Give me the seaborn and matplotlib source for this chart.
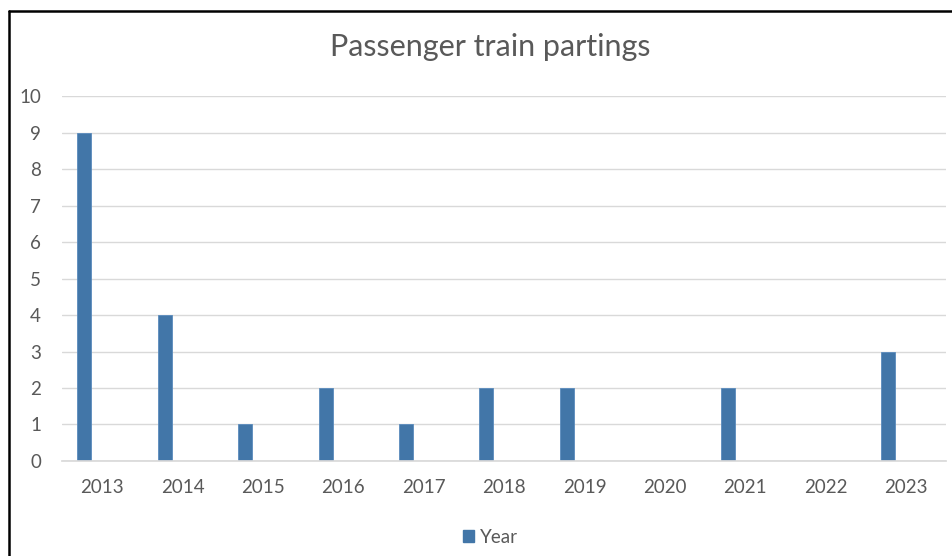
import matplotlib
matplotlib.use("Agg")
import matplotlib.pyplot as plt
import seaborn as sns
import pandas as pd
from matplotlib.lines import Line2D
from matplotlib.patches import Patch

years = ["2013", "2014", "2015", "2016", "2017", "2018", "2019", "2020", "2021", "2022", "2023"]
partings = [9, 4, 1, 2, 1, 2, 2, 0, 2, 0, 3]
series_name = "Year"
title = "Passenger train partings"

sns.set_theme(style="white")
plt.rcParams['font.family'] = ['Lato', 'DejaVu Sans']

BAR = "#4276a8"
TXT = "#595959"
GRID = "#d9d9d9"

df = pd.DataFrame({"year": years, "value": partings})

fig = plt.figure(figsize=(9.52, 5.56), dpi=100)
ax = fig.add_axes([0.065, 0.171, 0.929, 0.656])
sns.barplot(data=df, x="year", y="value", color=BAR, width=0.174, saturation=1, ax=ax,
            edgecolor="#5a8bbd", linewidth=0.6)
# Excel clustered-bar look: bar sits left of category centre
for p in ax.patches:
    p.set_x(p.get_x() - 0.22)

ax.set_ylim(0, 10)
ax.set_xlim(-0.5, len(years) - 0.5)
ax.set_yticks(range(0, 11))
ax.yaxis.grid(True, color=GRID, linewidth=1)
ax.set_axisbelow(True)
for s in ["top", "right", "left"]:
    ax.spines[s].set_visible(False)
ax.spines["bottom"].set_color(GRID)
ax.tick_params(axis="both", length=0, labelsize=13.5, colors=TXT)
ax.tick_params(axis="x", pad=13)
ax.tick_params(axis="y", pad=15)
ax.set_xlabel("")
ax.set_ylabel("")

fig.text(0.515, 0.915, title, ha="center", va="center", fontsize=22, color=TXT)

leg = fig.legend(handles=[Patch(facecolor=BAR, edgecolor=BAR)], labels=[series_name],
                 loc="center", bbox_to_anchor=(0.515, 0.034), frameon=False,
                 fontsize=13.5, handlelength=0.6, handleheight=0.6, handletextpad=0.3)
for t in leg.get_texts():
    t.set_color(TXT)

# outer border (top and left visible)
fig.add_artist(Line2D([0.009, 1.0], [0.981, 0.981], transform=fig.transFigure, color="black", linewidth=1.8))
fig.add_artist(Line2D([0.009, 0.009], [0.0, 0.981], transform=fig.transFigure, color="black", linewidth=1.8))

fig.savefig("out.png", dpi=100)
